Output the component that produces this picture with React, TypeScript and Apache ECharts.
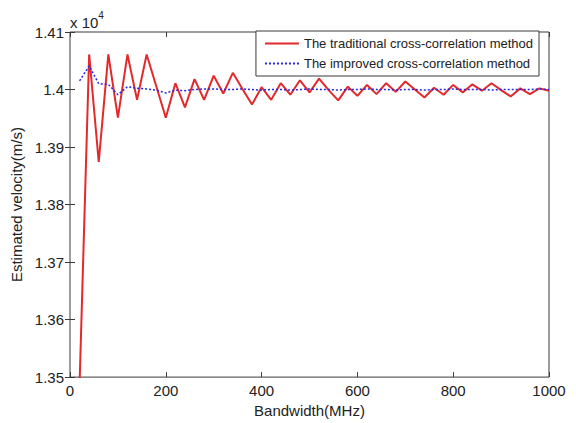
import React, { useEffect, useRef } from "react";
import * as echarts from "echarts";

const bandwidth = [20, 40, 60, 80, 100, 120, 140, 160, 180, 200, 220, 240, 260, 280, 300, 320, 340, 360, 380, 400, 420, 440, 460, 480, 500, 520, 540, 560, 580, 600, 620, 640, 660, 680, 700, 720, 740, 760, 780, 800, 820, 840, 860, 880, 900, 920, 940, 960, 980, 1000];

const traditional = [13488, 14061, 13874, 14061, 13951, 14061, 13982, 14061, 14006, 13951, 14011, 13969, 14018, 13982, 14024, 13993, 14029, 14001, 13974, 14004, 13982, 14011, 13991, 14016, 13995, 14019, 13999, 13981, 14005, 13989, 14008, 13992, 14011, 13996, 14014, 14000, 13986, 14003, 13991, 14008, 13995, 14009, 13998, 14011, 13999, 13988, 14002, 13992, 14002, 13998];

const improved = [14015, 14041, 14010, 14009, 13991, 14005, 14002, 14001, 13999, 13994, 13999, 13998, 14000, 14001, 14001, 14000, 14000, 14001, 14000, 13999, 14000, 14000, 13999, 14000, 14001, 14000, 14000, 13999, 14000, 14000, 14001, 14000, 14000, 13999, 14000, 14000, 13999, 14000, 14000, 14001, 14000, 14000, 14000, 13999, 14000, 14000, 14000, 14000, 14001, 14000];

const seriesNames = ["The traditional cross-correlation method", "The improved cross-correlation method"];
const xTicks = { min: 0, max: 1000, interval: 200 };
const yTicks = { min: 13500, max: 14100, interval: 100 };

export default function App() {
  const ref = useRef<HTMLDivElement>(null);
  useEffect(() => {
    if (!ref.current) return;
    const chart = echarts.init(ref.current, null, { renderer: "svg" });
    const font = "Liberation Sans, Arial, sans-serif";
    const axisColor = "#3a3a3a";
    const tickCommon = { inside: true, length: 5, lineStyle: { color: axisColor, width: 1 } };
    chart.setOption({
      animation: false,
      backgroundColor: "#ffffff",
      textStyle: { fontFamily: font },
      grid: { left: 70, right: 27, top: 32, bottom: 43, show: true, borderColor: axisColor, borderWidth: 1, backgroundColor: "#fff" },
      legend: {
        orient: "vertical",
        right: 37,
        top: 31,
        padding: [6, 6, 6, 8],
        itemWidth: 34,
        itemHeight: 14,
        itemGap: 7,
        backgroundColor: "#ffffff",
        borderColor: axisColor,
        borderWidth: 1,
        itemStyle: { opacity: 0 },
        textStyle: { fontSize: 13, color: "#222", fontFamily: font },
        data: seriesNames,
      },
      xAxis: [
        {
          type: "value",
          ...xTicks,
          name: "Bandwidth(MHz)",
          nameLocation: "middle",
          nameGap: 24,
          nameTextStyle: { fontSize: 15, color: "#222", fontFamily: font },
          axisLine: { show: false },
          axisTick: tickCommon,
          splitLine: { show: false },
          axisLabel: { fontSize: 15, color: "#222", margin: 6, fontFamily: font, formatter: (v: number) => String(v) },
        },
        {
          type: "value",
          ...xTicks,
          position: "top",
          axisLine: { show: false },
          axisTick: tickCommon,
          splitLine: { show: false },
          axisLabel: { show: false },
        },
      ],
      yAxis: [
        {
          type: "value",
          ...yTicks,
          name: "Estimated velocity(m/s)",
          nameLocation: "middle",
          nameGap: 44,
          nameTextStyle: { fontSize: 15, color: "#222", fontFamily: font },
          axisLine: { show: false },
          axisTick: tickCommon,
          splitLine: { show: false },
          axisLabel: {
            fontSize: 15,
            color: "#222",
            margin: 6,
            fontFamily: font,
            formatter: (v: number) => String(+(v / 10000).toFixed(2)),
          },
        },
        {
          type: "value",
          ...yTicks,
          position: "right",
          axisLine: { show: false },
          axisTick: tickCommon,
          splitLine: { show: false },
          axisLabel: { show: false },
        },
      ],
      graphic: [
        {
          type: "text",
          left: 70,
          top: 10,
          style: {
            text: "{a|x 10}{b|4}",
            rich: {
              a: { fontSize: 15, fill: "#222", fontFamily: font, verticalAlign: "bottom", lineHeight: 20 },
              b: { fontSize: 10, fill: "#222", fontFamily: font, verticalAlign: "top", lineHeight: 12 },
            },
          },
        },
      ],
      series: [
        {
          name: seriesNames[0],
          type: "line",
          xAxisIndex: 0,
          yAxisIndex: 0,
          data: bandwidth.map((b, i) => [b, traditional[i]]),
          symbol: "none",
          clip: true,
          lineStyle: { color: "#e2292b", width: 2 },
          itemStyle: { color: "#e2292b" },
          z: 2,
        },
        {
          name: seriesNames[1],
          type: "line",
          xAxisIndex: 0,
          yAxisIndex: 0,
          data: bandwidth.map((b, i) => [b, improved[i]]),
          symbol: "none",
          clip: true,
          lineStyle: { color: "#2626e6", width: 1.5, type: [2, 2] },
          itemStyle: { color: "#2626e6" },
          z: 3,
        },
      ],
    });
    return () => chart.dispose();
  }, []);
  return <div ref={ref} style={{ position: "fixed", left: 0, top: 0, width: 576, height: 423 }} />;
}
